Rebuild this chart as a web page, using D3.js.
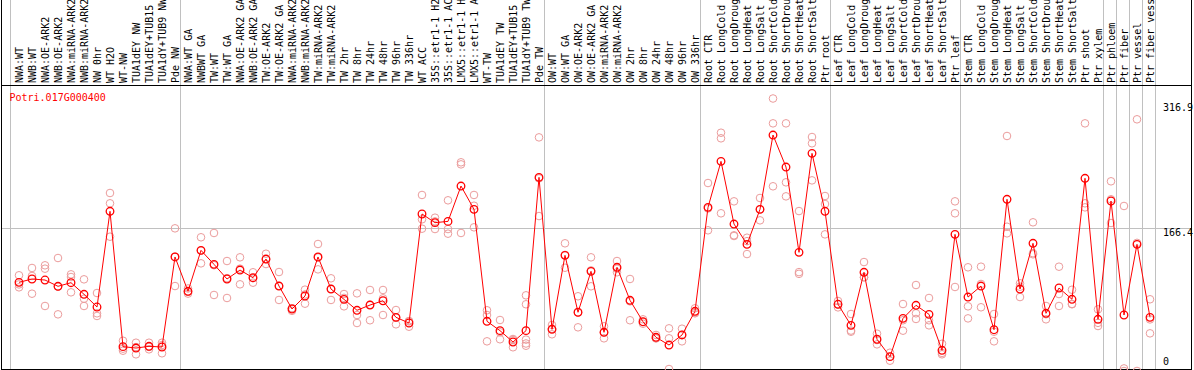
<!DOCTYPE html>
<html><head><meta charset="utf-8">
<script src="https://cdn.jsdelivr.net/npm/d3@7"></script>
<style>html,body{margin:0;padding:0;background:#fff;}svg{display:block;}</style>
</head><body>
<script>
const geneName = "Potri.017G000400";
const categories = ["NWA:WT","NWB:WT","NWA:OE-ARK2","NWB:OE-ARK2","NWA:miRNA-ARK2","NWB:miRNA-ARK2","NW 0hr","WT H2O","WT-NW","TUA1dEY NW","TUA1dEY+TUB15 NW","TUA1dY+TUB9 NW","Pde NW",
"NWA:WT GA","NWBWT GA","TW:WT","TW:WT GA","NWA:OE-ARK2 GA","NWB:OE-ARK2 GA","TW:OE-ARK2","TW:OE-ARK2 GA","NWA:miRNA-ARK2 GA","NWB:miRNA-ARK2 GA","TW:miRNA-ARK2","TW:miRNA-ARK2 GA","TW 2hr","TW 8hr","TW 24hr","TW 48hr","TW 96hr","TW 336hr","WT ACC","35S::etr1-1 H2O","35S::etr1-1 ACC","LMX5::etr1-1 H2O","LMX5::etr1-1 ACC","WT-TW","TUA1dEY TW","TUA1dEY+TUB15 TW","TUA1dY+TUB9 TW","Pde TW",
"OW:WT","OW:WT GA","OW:OE-ARK2","OW:OE-ARK2 GA","OW:miRNA-ARK2","OW:miRNA-ARK2 GA","OW 2hr","OW 8hr","OW 24hr","OW 48hr","OW 96hr","OW 336hr",
"Root CTR","Root LongCold","Root LongDrought","Root LongHeat","Root LongSalt","Root ShortCold","Root ShortDrought","Root ShortHeat","Root ShortSalt","Ptr root",
"Leaf CTR","Leaf LongCold","Leaf LongDrought","Leaf LongHeat","Leaf LongSalt","Leaf ShortCold","Leaf ShortDrought","Leaf ShortHeat","Leaf ShortSalt","Ptr leaf",
"Stem CTR","Stem LongCold","Stem LongDrought","Stem LongHeat","Stem LongSalt","Stem ShortCold","Stem ShortDrought","Stem ShortHeat","Stem ShortSalt","Ptr shoot",
"Ptr xylem","Ptr phloem","Ptr fiber","Ptr vessel","Ptr fiber vessel"];

const means = [103.1,107,105.8,98.5,102.7,89.2,74.4,185.7,28.3,26.7,28.7,27.9,132.6,
92.7,140.3,124,107,117.4,108.5,130.2,98.8,72.1,87.2,132.6,95.3,83.3,70.6,76.7,81.7,62.4,55.8,182.6,172.5,174,215.1,188,57.8,46.9,33.7,46.9,225.2,
48.5,134.5,68.3,115.9,45,120.6,82.2,57.3,39.2,30.2,41.9,69.4,
190.3,243.8,170.9,147.3,188,274.4,237.2,138,253.1,185.7,
77.6,53.1,114.8,36.9,16.7,61.2,76.4,65.9,24.1,158.9,
86,98.8,48,199.7,95.3,148.5,67.1,96.5,83.4,224.1,
60.1,197.7,65.1,147.3,62.4];

const replicates = [[111.3,97.3,100.7],[119.8,110.5,89.9],[122.9,119,75.6],[131.4,65.9,98.2],[112.4,109.3,91.5],[106.6,84.1,75.6],[90.7,67.1,64],[207,195,156.2],[35.2,23.6,26],[32.9,19.4,27.8],[32.9,25.2,28],[32.9,30.2,20.6],[165.9,98.8,133],
[96,90,92],[155.5,125.2,140],[160.5,88.4,123],[127.9,84.9,108],[132.2,100.8,119],[114.8,102.7,108],[136.4,124.4,130],[115.1,82.6,99],[70,73,73],[94.6,78.3,89],[147.7,118.2,132],[107.8,82.6,95.5],[89.5,75.2,85],[90.3,65.1,55.8],[94.2,59,77],[94.2,84.5,65.1],[70.9,54.3,62],[57.8,51.5,58],[204.7,176.4,165.5],[178.3,165.1,174],[198.5,165.1,159.7],[242.7,240.3,160.5],[204.7,192.2,167.1],[70.6,65.1,34.5],[59.3,36.9,45],[37.2,27.6,36],[88,77.6,36.5,32,29.4],[271.7,180.2,224],
[53.5,42.7,49],[148.5,120.1,135],[86.9,50.8,68],[132.2,98.5,117],[52,38,45],[127.9,114.8,119],[107,59,81],[60.1,55,57],[41.9,38,38],[49.6,38,2.3],[49.2,34.5,42],[72.9,67.1,68],
[218.6,163.6,189],[277.1,270.6,183.4],[197.3,157.8,157],[155,136,151],[201.2,175.2,188],[316.9,288,214.8],[288,219.4,203.1],[186,113,115],[272.1,264.8,221.7],[203.5,194.2,158.9],
[81.4,74,77.5],[66.3,45.7,47],[126.7,109,109],[43.4,31,36],[21.3,16.7,12],[77.9,46.9,59],[100,67.1,60.5],[84.9,59,53.1],[31.7,19.4,21],[197.3,183.4,97.7],
[120.6,75.2,61.2],[121.3,101.2,74.1],[66.3,45.7,34.5],[273.3,167.8,160.1],[102,86,98],[172.9,135.7,137],[75.6,60.1,66],[121.3,89.5,75.6],[94.5,77.6,78],[288,195,190.3],
[71.7,52.3,56],[220.6,199.7,172.1],[191.9,0,3],[292.7,149,0],[83.4,43.8,60]];

// indexes of last category in each group (separator drawn after)
const groupEnds = [12,40,52,62,72,83,84,85,86,87];
const tickValues = [316.9,166.4,0];
const tickLabels = ["316.9","166.4","0"];
const gridValue = 166.4;

const W = 1194, H = 370;
const svg = d3.select("body").append("svg").attr("width", W).attr("height", H);
const font = "'DejaVu Sans Mono', monospace";

const x = d3.scalePoint().domain(categories).range([19, 1150]);
const y = d3.scaleLinear().domain([0, 316.9]).range([371, 98.5]);
const crisp = v => Math.round(v) + 0.5;

// grey separators
const sepX = [x(categories[0]) - 8.5].concat(groupEnds.map(i => x(categories[i]) + 5.5));
svg.selectAll("line.sep").data(sepX).enter().append("line")
  .attr("x1", d => d).attr("x2", d => d).attr("y1", 0).attr("y2", H)
  .attr("stroke", "#c0c0c0").attr("stroke-width", 1);

// grid line
svg.append("line").attr("x1", 1).attr("x2", 1192)
  .attr("y1", crisp(y(gridValue))).attr("y2", crisp(y(gridValue)))
  .attr("stroke", "#c0c0c0").attr("stroke-width", 1);

// frame
svg.append("line").attr("x1", 1.5).attr("x2", 1.5).attr("y1", 0).attr("y2", 370).attr("stroke", "#000");
svg.append("line").attr("x1", 1191.5).attr("x2", 1191.5).attr("y1", 0).attr("y2", 370).attr("stroke", "#000");
svg.append("line").attr("x1", 1).attr("x2", 1192).attr("y1", 85.5).attr("y2", 85.5).attr("stroke", "#000");
svg.append("line").attr("x1", 1).attr("x2", 1192).attr("y1", 369.5).attr("y2", 369.5).attr("stroke", "#000");

// category labels
svg.selectAll("text.cat").data(categories).enter().append("text")
  .attr("transform", d => `translate(${x(d) + 3.5},83) rotate(-90)`)
  .attr("font-family", font).attr("font-size", 10).attr("fill", "#000")
  .text(d => d);

// gene name
svg.append("text").attr("x", 9.5).attr("y", 101)
  .attr("font-family", font).attr("font-size", 10).attr("fill", "#ff0000").text(geneName);

// y tick labels
svg.selectAll("text.tick").data(tickValues).enter().append("text")
  .attr("x", 1163)
  .attr("y", d => Math.min(Math.max(y(d) + 8, 111), 365))
  .attr("font-family", font).attr("font-size", 10).attr("fill", "#000")
  .text((d, i) => tickLabels[i]);

// replicate points
const reps = [];
replicates.forEach((arr, i) => arr.forEach(v => reps.push({c: categories[i], v})));
svg.selectAll("circle.rep").data(reps).enter().append("circle")
  .attr("cx", d => x(d.c)).attr("cy", d => y(d.v)).attr("r", 3.8)
  .attr("fill", "none").attr("stroke", "#eb9c9c").attr("stroke-width", 1);

// mean line
const meanData = categories.map((c, i) => ({c, v: means[i]}));
svg.append("path").datum(meanData)
  .attr("d", d3.line().x(d => x(d.c)).y(d => y(d.v)))
  .attr("fill", "none").attr("stroke", "#ff0000").attr("stroke-width", 1);

svg.selectAll("circle.mean").data(meanData).enter().append("circle")
  .attr("cx", d => x(d.c)).attr("cy", d => y(d.v)).attr("r", 3.8)
  .attr("fill", "none").attr("stroke", "#ff0000").attr("stroke-width", 1.3);
</script>
</body></html>
